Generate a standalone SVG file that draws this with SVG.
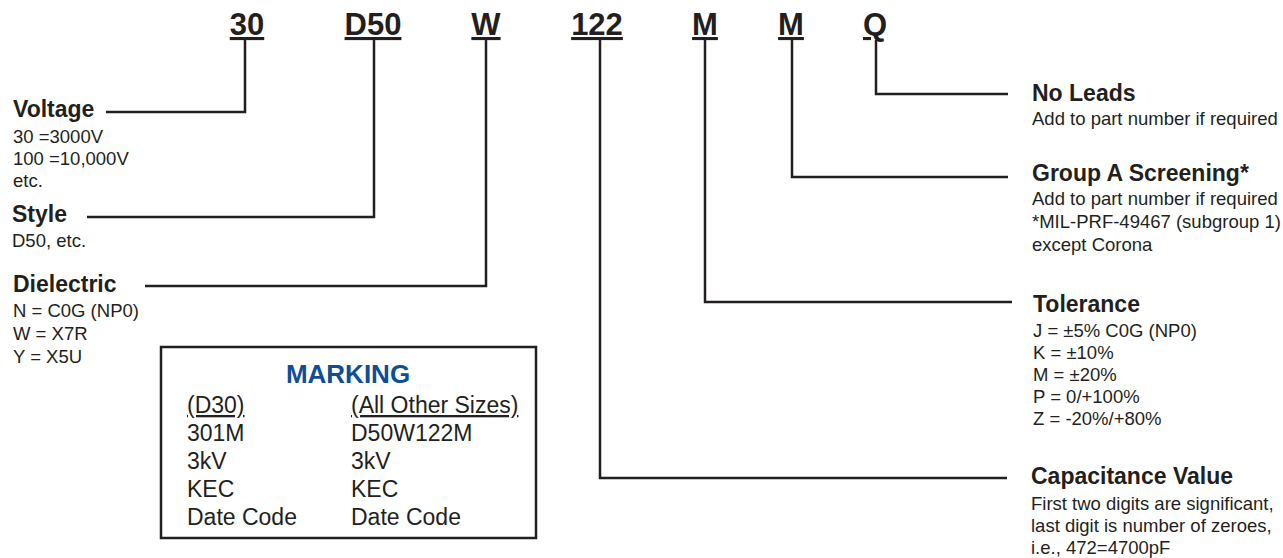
<svg xmlns="http://www.w3.org/2000/svg" width="1283" height="558" viewBox="0 0 1283 558">
<style>
text{font-family:"Liberation Sans",Arial,sans-serif;fill:#231f20}
.code{font-size:31px;font-weight:bold;text-anchor:middle;text-decoration:underline}
.lbl{font-size:23px;font-weight:bold}
.sub{font-size:18.5px}
.mk{font-size:23px}
.title{font-size:26px;font-weight:bold;fill:#0f4e96;text-anchor:middle}
.conn{fill:none;stroke:#231f20;stroke-width:2.5}
</style>
<rect width="1283" height="558" fill="#fff"/>
<g id="codes">
<text class="code" x="247" y="35">30</text>
<text class="code" x="373" y="35">D50</text>
<text class="code" x="486" y="35">W</text>
<text class="code" x="597" y="35">122</text>
<text class="code" x="705" y="35">M</text>
<text class="code" x="791" y="35">M</text>
<text class="code" x="875" y="35">Q</text>
</g>
<g id="connectors" class="conn">
<path class="conn" d="M245,40V112H106"/>
<path class="conn" d="M374,40V217H87"/>
<path class="conn" d="M486,40V286H145"/>
<path class="conn" d="M600,40V478H1007"/>
<path class="conn" d="M705,40V302H1012"/>
<path class="conn" d="M792,40V177H1008"/>
<path class="conn" d="M876,40V94H1008"/>
</g>
<g id="voltage">
<text class="lbl" x="13" y="117">Voltage</text>
<text class="sub" x="13" y="143">30 =3000V</text>
<text class="sub" x="13" y="165">100 =10,000V</text>
<text class="sub" x="13" y="187">etc.</text>
</g>
<g id="style">
<text class="lbl" x="12" y="222">Style</text>
<text class="sub" x="12" y="247">D50, etc.</text>
</g>
<g id="dielectric">
<text class="lbl" x="13" y="292">Dielectric</text>
<text class="sub" x="13" y="317">N = C0G (NP0)</text>
<text class="sub" x="13" y="340">W = X7R</text>
<text class="sub" x="13" y="363">Y = X5U</text>
</g>
<g id="no-leads">
<text class="lbl" x="1032" y="101">No Leads</text>
<text class="sub" x="1032" y="125">Add to part number if required</text>
</g>
<g id="group-a">
<text class="lbl" x="1032" y="181">Group A Screening*</text>
<text class="sub" x="1032" y="205">Add to part number if required</text>
<text class="sub" x="1032" y="228">*MIL-PRF-49467 (subgroup 1)</text>
<text class="sub" x="1032" y="251">except Corona</text>
</g>
<g id="tolerance">
<text class="lbl" x="1033" y="312">Tolerance</text>
<text class="sub" x="1033" y="337">J = ±5% C0G (NP0)</text>
<text class="sub" x="1033" y="359">K = ±10%</text>
<text class="sub" x="1033" y="381">M = ±20%</text>
<text class="sub" x="1033" y="403">P = 0/+100%</text>
<text class="sub" x="1033" y="425">Z = -20%/+80%</text>
</g>
<g id="capacitance">
<text class="lbl" x="1031" y="484">Capacitance Value</text>
<text class="sub" x="1031" y="510">First two digits are significant,</text>
<text class="sub" x="1031" y="532">last digit is number of zeroes,</text>
<text class="sub" x="1031" y="554">i.e., 472=4700pF</text>
</g>
<g id="marking">
<rect x="161" y="347" width="375" height="191" fill="#fff" stroke="#231f20" stroke-width="2.5"/>
<text class="title" x="348" y="383">MARKING</text>
<text class="mk" x="187" y="413" text-decoration="underline">(D30)</text>
<text class="mk" x="187" y="441">301M</text>
<text class="mk" x="187" y="469">3kV</text>
<text class="mk" x="187" y="497">KEC</text>
<text class="mk" x="187" y="525">Date Code</text>
<text class="mk" x="351" y="413" text-decoration="underline">(All Other Sizes)</text>
<text class="mk" x="351" y="441">D50W122M</text>
<text class="mk" x="351" y="469">3kV</text>
<text class="mk" x="351" y="497">KEC</text>
<text class="mk" x="351" y="525">Date Code</text>
</g>
</svg>
